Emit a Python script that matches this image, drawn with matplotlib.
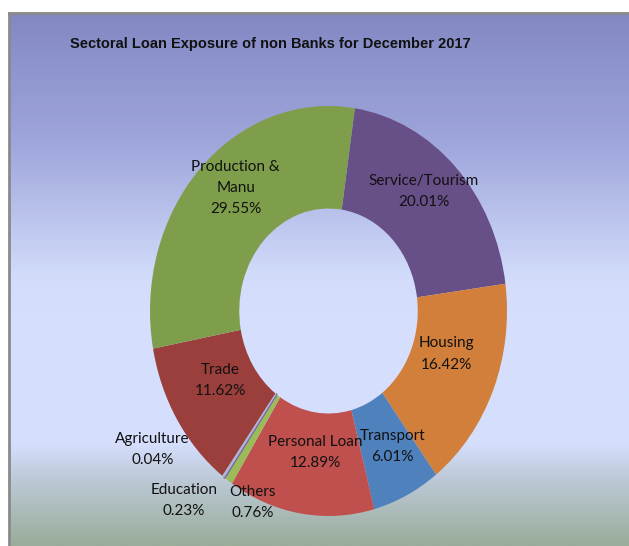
import numpy as np
import matplotlib.pyplot as plt
from matplotlib.colors import LinearSegmentedColormap

# sectors, clockwise from the top
sectors = ["Service/Tourism", "Housing", "Transport", "Personal Loan", "Others",
           "Agriculture", "Education", "Trade", "Production &\nManu"]
shares = [20.01, 16.42, 6.01, 12.89, 0.76, 0.04, 0.23, 11.62, 29.55]
colors = ["#674f87", "#d17f3b", "#4f81bd", "#c0504d", "#9bbb59",
          "#8064a2", "#abb9d8", "#9b3f3d", "#7f9e4b"]

# label centres in axes units (x, y in -1..1)
label_pos = {
    "Service/Tourism": (0.535, 0.585),
    "Housing": (0.66, -0.21),
    "Transport": (0.36, -0.66),
    "Personal Loan": (-0.075, -0.69),
    "Others": (-0.425, -0.935),
    "Agriculture": (-0.985, -0.675),
    "Education": (-0.81, -0.925),
    "Trade": (-0.605, -0.34),
    "Production &\nManu": (-0.52, 0.60),
}

W, H = 629, 546
fig = plt.figure(figsize=(W / 100, H / 100), dpi=100)
fig.patch.set_facecolor("white")

# chart area with vertical gradient
bg = fig.add_axes([9 / W, 0, (W - 9) / W, (H - 13) / H])
grad = LinearSegmentedColormap.from_list("bg", [
    (0.0, "#8388c4"),
    (0.25, "#a0a7dc"),
    (0.50, "#d3ddfb"),
    (0.56, "#d5dffd"),
    (0.81, "#d5dffd"),
    (0.87, "#bfcbdb"),
    (1.0, "#99ad9a"),
])
bg.imshow(np.linspace(0, 1, 400).reshape(-1, 1), aspect="auto", cmap=grad,
          extent=[0, 1, 0, 1], origin="upper")
bg.set_xlim(0, 1)
bg.set_ylim(0, 1)
bg.set_xticks([])
bg.set_yticks([])
for side in ["right", "bottom"]:
    bg.spines[side].set_visible(False)
for side in ["top", "left"]:
    bg.spines[side].set_color("#8a8a8a")
    bg.spines[side].set_linewidth(2)

fig.text(270 / W, 1 - 44 / H, "Sectoral Loan Exposure of non Banks for December 2017",
         ha="center", va="center", fontsize=10.5, fontweight="bold",
         family="Liberation Sans", color="#111111")

ax = fig.add_axes([150 / W, 30 / H, 357 / W, 410 / H])
ax.patch.set_alpha(0)
wedges, _ = ax.pie(shares, colors=colors, startangle=81.5, counterclock=False,
                   radius=1, wedgeprops=dict(width=0.5, linewidth=0))
# the tiny agriculture slice gets an outline so it stays visible
wedges[5].set_edgecolor(colors[5])
wedges[5].set_linewidth(1.2)
ax.set_aspect("auto")
ax.set_xlim(-1, 1)
ax.set_ylim(-1, 1)
ax.axis("off")

for name, val in zip(sectors, shares):
    x, y = label_pos[name]
    ax.text(x, y, f"{name}\n{val:.2f}%", ha="center", va="center",
            fontsize=11, family="Lato", color="#111111", linespacing=1.65,
            clip_on=False)

fig.savefig("out.png", dpi=100, facecolor="white")
